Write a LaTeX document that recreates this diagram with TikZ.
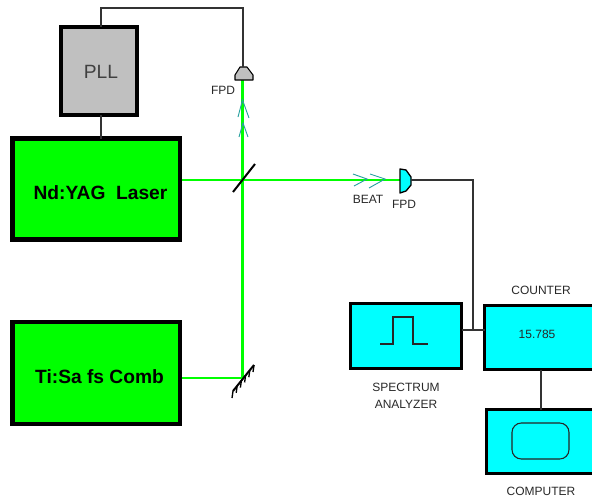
\documentclass[tikz,border=0pt]{standalone}
\usepackage{fontspec}
\setmainfont{Liberation Sans}
\definecolor{lasergreen}{RGB}{0,255,0}
\definecolor{cyanbox}{RGB}{0,255,255}
\definecolor{pllgray}{RGB}{192,192,192}
\definecolor{chev}{RGB}{40,160,160}
\definecolor{txt}{RGB}{40,40,40}
\tikzset{
  px/.style={x=0.75pt,y=-0.75pt},
  blockbox/.style={draw=black,inner sep=0pt,outer sep=0pt,anchor=north west},
  greenbox/.style={blockbox,fill=lasergreen,line width=3.6pt},
  cyanblock/.style={blockbox,fill=cyanbox,line width=2.1pt},
  beam/.style={draw=lasergreen,line width=2pt},
  wire/.style={draw=black!80,line width=0.8pt},
  optic/.style={draw=black,line width=1.5pt},
  chevron/.style={draw=chev,line width=0.7pt},
  lbl/.style={font=\fontsize{9}{10}\selectfont,text=txt,inner sep=0pt},
  biglbl/.style={font=\fontsize{14.4}{16}\selectfont\bfseries,text=black,inner sep=0pt}
}
\begin{document}
\begin{tikzpicture}[px]
\useasboundingbox (0,0) rectangle (592,501);
% blocks
\node[blockbox,fill=pllgray,line width=3pt,minimum width=57pt,minimum height=66pt] (pll) at (61,27) {};
\node[greenbox,minimum width=125.6pt,minimum height=75.8pt] (yag) at (12.5,138.5) {};
\node[greenbox,minimum width=125.6pt,minimum height=76.5pt] (ti) at (12.5,322) {};
\node[cyanblock,minimum width=83.3pt,minimum height=48.8pt] (sa) at (350.5,303.5) {};
\node[cyanblock,minimum width=90pt,minimum height=48pt] (cnt) at (484.5,305.5) {};
\node[cyanblock,minimum width=90pt,minimum height=48pt] (comp) at (486.5,409.5) {};
% named points
\coordinate (split) at (242.5,180);
\coordinate (mir) at (242.5,378);
\coordinate (topL) at (101,8);
\coordinate (topR) at (243,8);
\coordinate (corner) at (473,180);
\coordinate (junction) at (473,330);
% green beams
\draw[beam,shorten <=1.8pt] (ti.east |- mir) -- (mir) -- (242.5,80);
\draw[beam,shorten <=1.8pt] (yag.east |- split) -- (400,180);
% detector top
\draw[fill=pllgray,draw=black,line width=0.8pt,line join=round] (235,80) -- (235,75) -- (240,67) -- (247,67) -- (253,75) -- (253,80) -- cycle;
\coordinate (fpdtop) at (243,67);
% beat detector
\draw[fill=cyanbox,draw=black,line width=1pt,line join=round] (400,169) -- (406,170) -- (411,177) -- (411,185) -- (406,191) -- (400,193) -- cycle;
\coordinate (fpdr) at (411,180);
% wires
\draw[wire] (pll.north -| topL) -- (topL) -- (topR) -- (fpdtop);
\draw[wire] (pll.south -| topL) -- (yag.north -| topL);
\draw[wire] (fpdr) -- (corner) -- (junction);
\draw[wire] (sa.east |- junction) -- (cnt.west |- junction);
\draw[wire] (cnt.south -| 541,0) -- (comp.north -| 541,0);
% splitter & mirror
\draw[optic] (233,192) -- (255,164);
\draw[optic] (233,391) -- (254,365);
\foreach \t in {0,0.2,0.4,0.6,0.8,1}{
  \draw[draw=black,line width=1pt] (233+21*\t,391-26*\t) -- ++(-1,7);
}
% vertical chevrons
\draw[chevron] (238,117) -- (242.5,100) -- (249,118);
\draw[chevron] (239,137) -- (243,123) -- (248,137);
% horizontal chevrons
\draw[chevron] (353,174) -- (367,179) -- (354,186);
\draw[chevron] (370,174) -- (385,179) -- (369,188);
% spectrum icon
\draw[draw=black!85,line width=0.8pt] (380,344) -- (393,344) -- (393,317) -- (413,317) -- (413,344) -- (428,344);
% computer icon
\draw[draw=black!85,line width=0.8pt,rounded corners=7pt] (512,423) rectangle (569,459);
% text
\node[font=\fontsize{14.4}{16}\selectfont,text=black!75,inner sep=0pt] (tpll) at (101,72) {PLL};
\node[biglbl] (tyag) at (100.5,193) {Nd:YAG\ \ Laser};
\node[biglbl] (tti) at (99.5,377) {Ti:Sa fs Comb};
\node[lbl] (f1) at (223,90) {FPD};
\node[lbl] (beat) at (368,199) {BEAT};
\node[lbl] (f2) at (404,204) {FPD};
\node[lbl] (tcnt) at (541,290) {COUNTER};
\node[lbl] (val) at (537,334) {15.785};
\node[lbl,align=center] (tsa) at (406,396) {SPECTRUM\\[3pt]ANALYZER};
\node[lbl] (tcomp) at (541,491) {COMPUTER};
\end{tikzpicture}
\end{document}
